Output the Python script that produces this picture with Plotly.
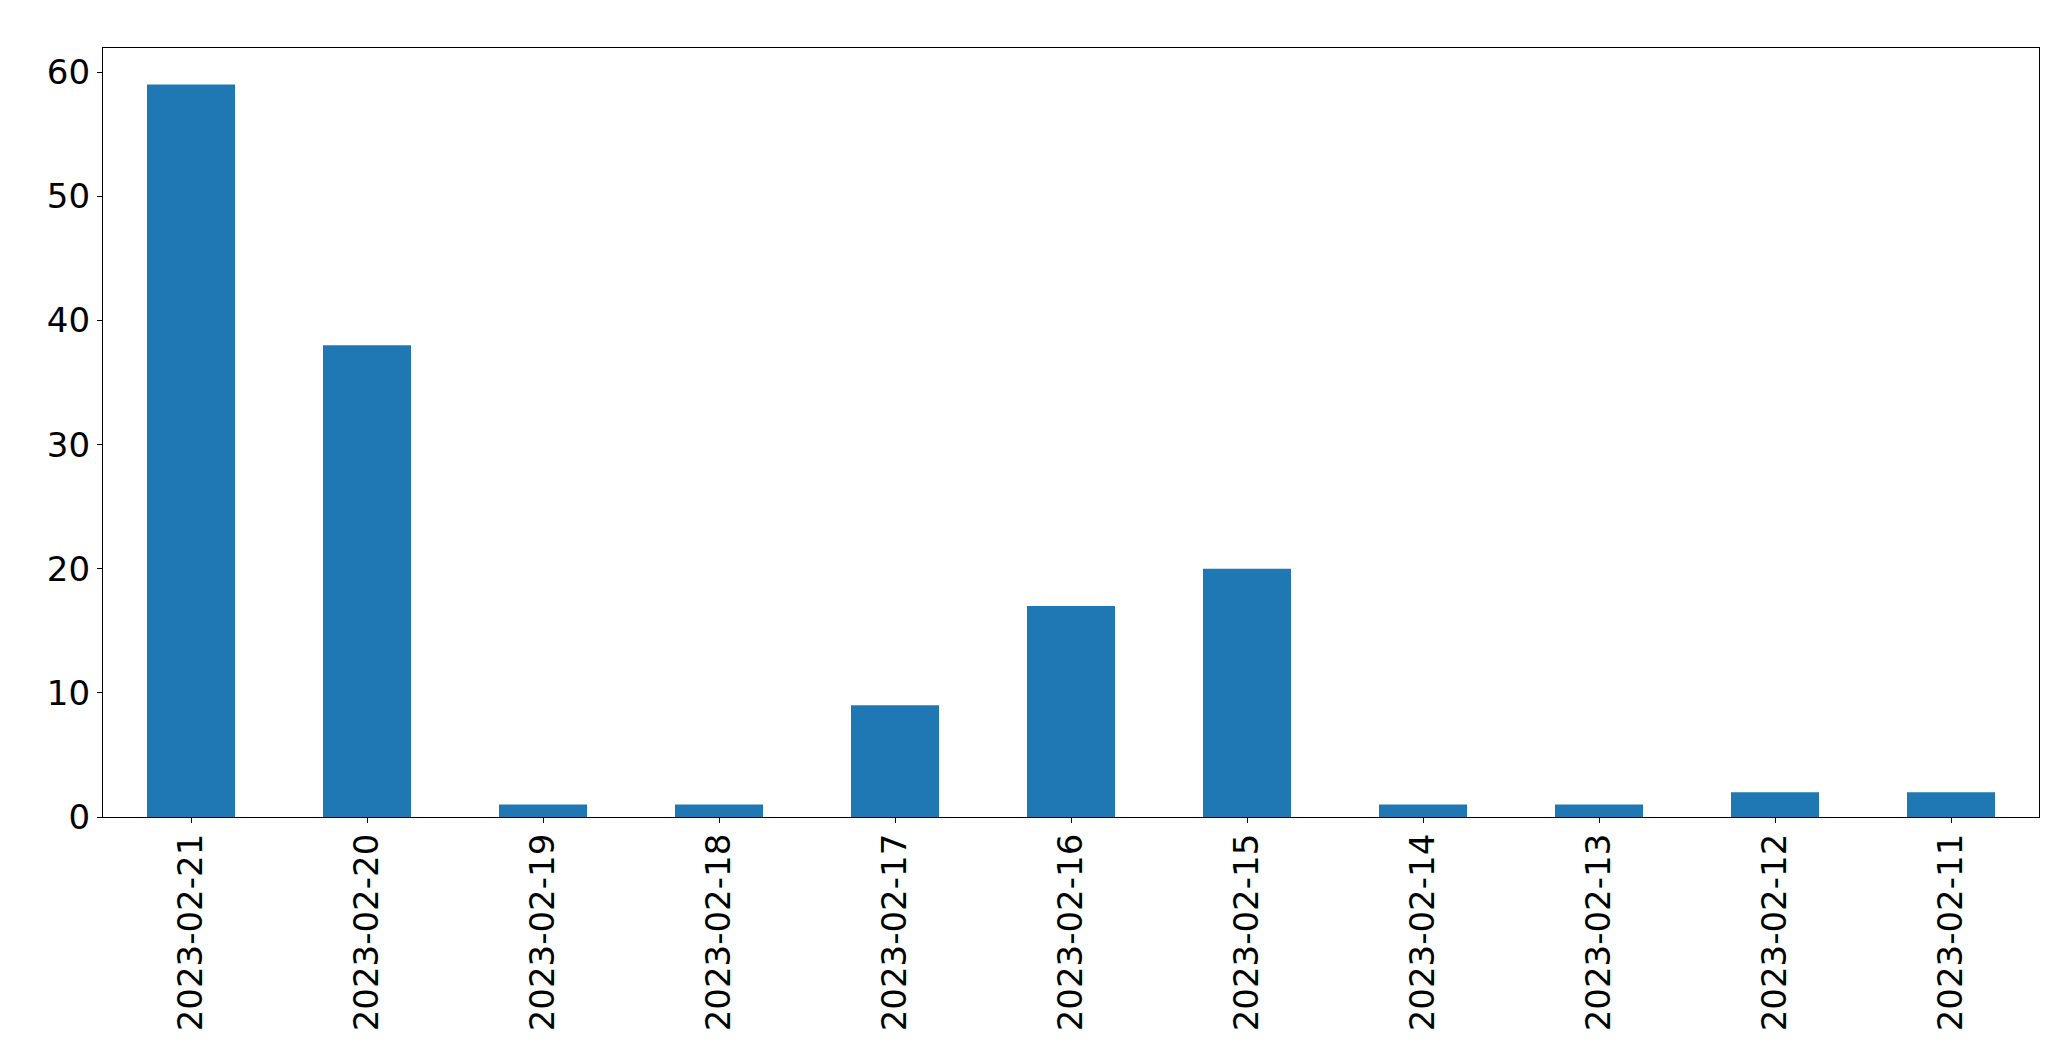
import plotly.graph_objects as go

dates = ["2023-02-21", "2023-02-20", "2023-02-19", "2023-02-18", "2023-02-17",
         "2023-02-16", "2023-02-15", "2023-02-14", "2023-02-13", "2023-02-12", "2023-02-11"]
counts = [59, 38, 1, 1, 9, 17, 20, 1, 1, 2, 2]
y_ticks = [0, 10, 20, 30, 40, 50, 60]

fig = go.Figure(go.Bar(x=dates, y=counts, marker=dict(color="#1f77b4", line=dict(width=0)), width=0.5))

font = dict(family="DejaVu Sans", size=34, color="black")
fig.update_layout(
    width=2071, height=1061,
    margin=dict(l=95, r=40, t=40, b=252),
    plot_bgcolor="white", paper_bgcolor="white",
    showlegend=False, font=font,
)
fig.update_xaxes(type="category", range=[-0.5, 10.5], tickangle=-90,
                 showline=True, linecolor="black", linewidth=1.3, mirror=True,
                 ticks="outside", ticklen=5, tickwidth=1.3, tickcolor="black",
                 showgrid=False, tickfont=font, ticklabelstandoff=-3)
fig.update_yaxes(range=[0, 61.95], tickvals=y_ticks,
                 showline=True, linecolor="black", linewidth=1.3, mirror=True,
                 ticks="outside", ticklen=5, tickwidth=1.3, tickcolor="black",
                 showgrid=False, zeroline=False, tickfont=font)

fig.write_html("out.html")
